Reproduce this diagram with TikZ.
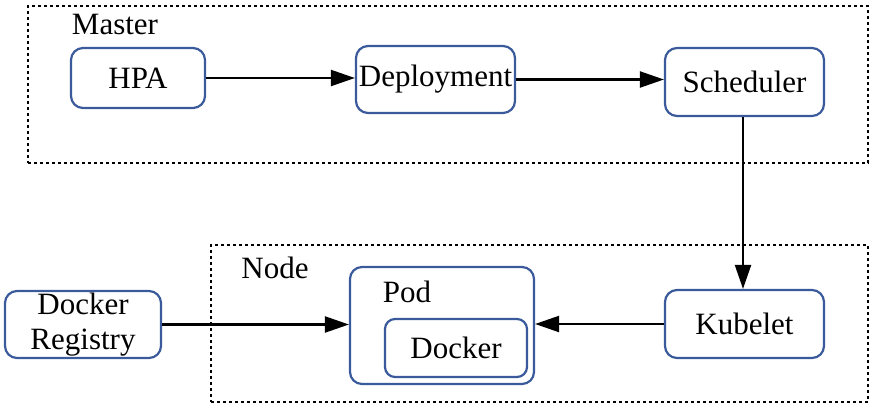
\documentclass[tikz,border=0pt]{standalone}
\usepackage{fontspec}
\setmainfont{Liberation Serif}
\usetikzlibrary{arrows.meta}
\definecolor{boxblue}{HTML}{3B5A9C}
\begin{document}
\begin{tikzpicture}[x=1pt,y=-1pt,
  comp/.style={draw=boxblue,line width=2.2pt,rounded corners=12pt,inner sep=0pt,font=\fontsize{31}{37}\selectfont,align=center},
  grp/.style={draw=black,line width=2.2pt,dash pattern=on 3pt off 3pt,inner sep=0pt},
  lbl/.style={inner sep=0pt,font=\fontsize{31}{37}\selectfont},
  conn/.style={line width=2.2pt,-{Triangle[length=24pt,width=16pt]}}]
\useasboundingbox (0,0) rectangle (876,408);
% groups
\node[grp,minimum width=840pt,minimum height=157pt] (master) at (448,84.5) {};
\node[grp,minimum width=657pt,minimum height=157pt] (nodegrp) at (539.5,323.5) {};
\node[lbl] (masterlbl) at (115,24) {Master};
\node[lbl] (nodelbl) at (275,268) {Node};
% components
\node[comp,minimum width=134pt,minimum height=60pt] (hpa) at (138,78) {HPA};
\node[comp,minimum width=159pt,minimum height=67pt] (dep) at (435.5,79.5) {Deployment};
\node[comp,minimum width=159pt,minimum height=68pt] (sch) at (744.5,82) {Scheduler};
\node[comp,minimum width=159pt,minimum height=68pt] (kub) at (744.5,324) {Kubelet};
\node[comp,minimum width=156pt,minimum height=67pt] (reg) at (83,324.5) {Docker\\[-0.05em]Registry};
\node[comp,minimum width=184pt,minimum height=117pt] (pod) at (442,325.5) {};
\node[lbl] (podlbl) at (407,292) {Pod};
\node[comp,minimum width=142pt,minimum height=58pt,rounded corners=10pt] (dock) at (456,348) {Docker};
% connectors
\draw[conn] (hpa.east) -- (dep.west |- hpa.east);
\draw[conn] (dep.east) -- (sch.west |- dep.east);
\draw[conn] (sch.south -| 743,0) -- (kub.north -| 743,0);
\draw[conn] (reg.east) -- (pod.west |- reg.east);
\draw[conn] (kub.west) -- (pod.east |- kub.west);
\end{tikzpicture}
\end{document}
